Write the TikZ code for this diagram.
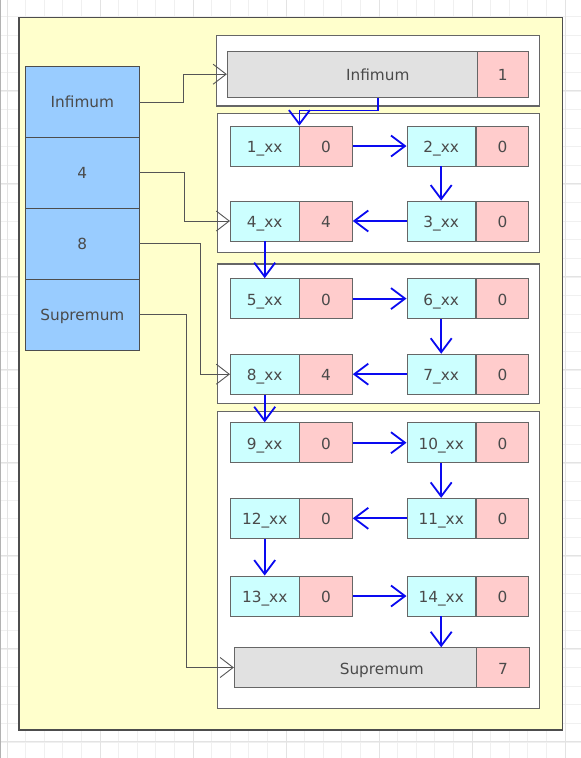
\documentclass[tikz,border=0pt]{standalone}
\usepackage{fontspec}
\setmainfont{DejaVu Sans}
\usetikzlibrary{arrows.meta}

\definecolor{pageyellow}{HTML}{FFFFCC}
\definecolor{colblue}{HTML}{99CCFF}
\definecolor{keycyan}{HTML}{CCFFFF}
\definecolor{valpink}{HTML}{FFCCCC}
\definecolor{bargray}{HTML}{E1E1E1}
\definecolor{edgegray}{HTML}{666666}
\definecolor{darkedge}{HTML}{4D4D4D}
\definecolor{txtgray}{HTML}{4A4A4A}
\definecolor{gridminor}{HTML}{F0F0F0}
\definecolor{gridmajor}{HTML}{E3E3E3}
\definecolor{linkblue}{HTML}{0A0AF0}
\definecolor{linkgray}{HTML}{555555}

\tikzset{
  box/.style={draw=edgegray, line width=0.9pt, inner sep=0pt, minimum height=40pt,
    text height=13pt, text depth=0pt},
  keycell/.style={box, fill=keycyan, minimum width=68.5pt, anchor=west},
  valcell/.style={box, fill=valpink, minimum width=52.5pt, anchor=west},
  barcell/.style={box, fill=bargray},
  colcell/.style={draw=darkedge, line width=0.9pt, fill=colblue, inner sep=0pt,
    minimum width=113.3pt, minimum height=70.8pt, text height=11.6pt, text depth=0pt},
  container/.style={draw=edgegray, line width=1.1pt, fill=white},
  graylink/.style={draw=linkgray, line width=0.9pt,
    -{Straight Barb[length=13pt,width=20pt]}},
  bluelink/.style={draw=linkblue, line width=1.8pt,
    -{Straight Barb[length=14pt,width=21pt]}}
}

\begin{document}
\begin{tikzpicture}[x=1pt,y=-1pt, font=\fontsize{15.3}{18}\selectfont, text=txtgray]
\useasboundingbox (0,0) rectangle (581,758);

% canvas grid
\fill[white] (0,0) rectangle (581,758);
\foreach \k in {0,...,31}{
  \draw[gridminor, line width=0.8pt] ({7+18.6*\k},0) -- ({7+18.6*\k},758);
}
\foreach \k in {1,...,41}{
  \draw[gridminor, line width=0.8pt] (0,{-2.1+18.6*\k}) -- (581,{-2.1+18.6*\k});
}
\foreach \k in {0,5,...,30}{
  \draw[gridmajor, line width=0.9pt] ({7+18.6*\k},0) -- ({7+18.6*\k},758);
}
\foreach \k in {5,10,...,40}{
  \draw[gridmajor, line width=0.9pt] (0,{-2.1+18.6*\k}) -- (581,{-2.1+18.6*\k});
}
\draw[gray!60, line width=1pt] (0.5,0) -- (0.5,758);

% page frame
\draw[fill=pageyellow, draw=darkedge, line width=1.2pt] (19,17.3) rectangle (562.7,730);

% index column
\node[colcell] (cinf) at (82.35,102.1) {Infimum};
\node[colcell] (c4)   at (82.35,172.9) {4};
\node[colcell] (c8)   at (82.35,243.7) {8};
\node[colcell] (csup) at (82.35,314.6) {Supremum};

% groups
\draw[container] (216.7,35.7)  rectangle (539.3,106);
\draw[container] (217.3,113.3) rectangle (539.3,252.7);
\draw[container] (217.7,264)   rectangle (539.3,403.3);
\draw[container] (217.7,411.7) rectangle (539.5,708.7);

% infimum record
\node[barcell, minimum width=301pt, minimum height=46.3pt] (inf) at (377.8,74.2) {Infimum};
\node[box, fill=valpink, minimum width=51pt, minimum height=46.3pt, anchor=east] (infv) at (inf.east) {1};

% records
\node[keycell] (n1) at (230,146) {1\_xx};   \node[valcell] (v1) at (n1.east) {0};
\node[keycell] (n2) at (406.5,146) {2\_xx}; \node[valcell] (v2) at (n2.east) {0};
\node[keycell] (n4) at (230,221) {4\_xx};   \node[valcell] (v4) at (n4.east) {4};
\node[keycell] (n3) at (406.5,221) {3\_xx}; \node[valcell] (v3) at (n3.east) {0};

\node[keycell] (n5) at (230,298.6) {5\_xx};   \node[valcell] (v5) at (n5.east) {0};
\node[keycell] (n6) at (406.5,298.6) {6\_xx}; \node[valcell] (v6) at (n6.east) {0};
\node[keycell] (n8) at (230,374.2) {8\_xx};   \node[valcell] (v8) at (n8.east) {4};
\node[keycell] (n7) at (406.5,374.2) {7\_xx}; \node[valcell] (v7) at (n7.east) {0};

\node[keycell] (n9)  at (230,442.7) {9\_xx};    \node[valcell] (v9)  at (n9.east)  {0};
\node[keycell] (n10) at (406.5,442.7) {10\_xx}; \node[valcell] (v10) at (n10.east) {0};
\node[keycell] (n12) at (230,518.3) {12\_xx};   \node[valcell] (v12) at (n12.east) {0};
\node[keycell] (n11) at (406.5,518.3) {11\_xx}; \node[valcell] (v11) at (n11.east) {0};
\node[keycell] (n13) at (230,596) {13\_xx};     \node[valcell] (v13) at (n13.east) {0};
\node[keycell] (n14) at (406.5,596) {14\_xx};   \node[valcell] (v14) at (n14.east) {0};

% supremum record
\node[barcell, minimum width=295pt, minimum height=39.6pt] (sup) at (381.8,667.5) {Supremum};
\node[box, fill=valpink, minimum width=52.6pt, minimum height=39.6pt, anchor=east] (supv) at (sup.east) {7};

% index pointers
\draw[graylink] (cinf.east) -- ++(43.7,0) |- (inf.west);
\draw[graylink] (c4.east)   -- ++(45,0)   |- (n4.west);
\draw[graylink] (c8.east)   -- ++(61,0)   |- (n8.west);
\draw[graylink] (csup.east) -- ++(47,0)   |- (sup.west);

% record chain
\draw[bluelink] (inf.south) -- ++(0,12.7) -| (n1.north east);
\draw[bluelink] (v1.east) -- (n2.west);
\draw[bluelink] (n2.south) -- (n3.north);
\draw[bluelink] (n3.west) -- (v4.east);
\draw[bluelink] (n4.south) -- (n5.north);
\draw[bluelink] (v5.east) -- (n6.west);
\draw[bluelink] (n6.south) -- (n7.north);
\draw[bluelink] (n7.west) -- (v8.east);
\draw[bluelink] (n8.south) -- (n9.north);
\draw[bluelink] (v9.east) -- (n10.west);
\draw[bluelink] (n10.south) -- (n11.north);
\draw[bluelink] (n11.west) -- (v12.east);
\draw[bluelink] (n12.south) -- (n13.north);
\draw[bluelink] (v13.east) -- (n14.west);
\draw[bluelink] (n14.south) -- (n14.south |- sup.north);
\end{tikzpicture}
\end{document}
